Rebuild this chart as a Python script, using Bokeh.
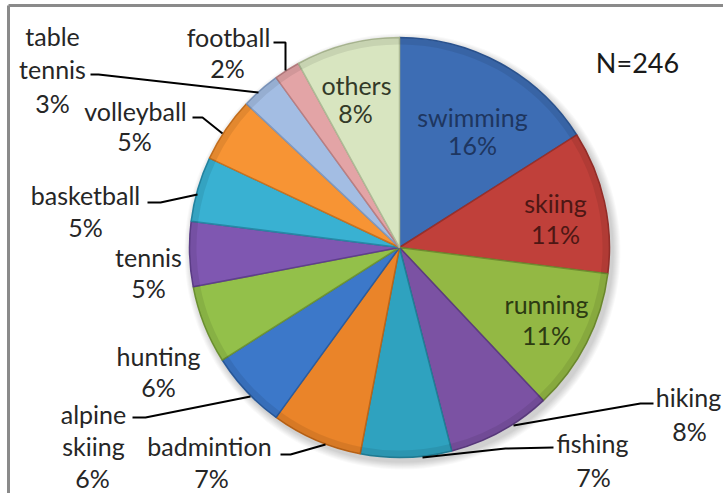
import math
from bokeh.plotting import figure
from bokeh.models import Range1d, ColumnDataSource
from bokeh.core.properties import value
from bokeh.embed import file_html
from bokeh.resources import INLINE

# ---- data ----
categories = ["swimming", "skiing", "running", "hiking", "fishing", "badmintion",
              "alpine skiing", "hunting", "tennis", "basketball", "volleyball",
              "table tennis", "football", "others"]
percents = [16, 11, 11, 8, 7, 7, 6, 6, 5, 5, 5, 3, 2, 8]
colors = ["#3d6db4", "#c0403a", "#93b844", "#7b52a3", "#2fa2bf", "#ea8429",
          "#3c78c9", "#93c04a", "#7f57b1", "#39b1d2", "#f79434", "#a3bde3",
          "#e3a4a6", "#d8e5c0"]
edge_colors = ["#2c5592", "#98302b", "#6f8d30", "#5c3c80", "#217f97", "#bd6518",
               "#2a5c9f", "#6f9533", "#5f3f8c", "#2689a6", "#c9721f", "#7f99c0",
               "#b97f82", "#aebb96"]
n_label = "N=246"

W, H = 723, 493
CX, CY, R = 399, 247, 210   # pie centre / radius in pixels (from top-left)

def Y(py):
    return H - py

p = figure(width=W, height=H, x_range=Range1d(0, W), y_range=Range1d(0, H),
           output_backend="svg", toolbar_location=None, min_border=0)
p.axis.visible = False
p.grid.visible = False
p.outline_line_color = None
p.background_fill_color = "white"
p.border_fill_color = "white"

# chart frame (top & left edges visible)
p.line([8, W], [Y(5), Y(5)], line_color="#8a8a8a", line_width=3)
p.line([8, 8], [Y(5), 0], line_color="#8a8a8a", line_width=3)

# soft shadow
for k in range(8):
    p.circle(x=CX + 3, y=Y(CY + 4), radius=R + 8 - k, fill_color="black",
             fill_alpha=0.025, line_color=None)

# wedges
total = sum(percents)
starts, ends = [], []
cum = 0.0
for v in percents:
    a0 = math.pi / 2 - 2 * math.pi * (cum + v) / total
    a1 = math.pi / 2 - 2 * math.pi * cum / total
    starts.append(a0)
    ends.append(a1)
    cum += v
src = ColumnDataSource(dict(start=starts, end=ends, fill=colors, edge=edge_colors))
p.wedge(x=CX, y=Y(CY), radius=R, start_angle="start", end_angle="end",
        fill_color="fill", line_color="edge", line_width=1.5, source=src)
# subtle bevel: darker rim and lighter inner band
p.annular_wedge(x=CX, y=Y(CY), inner_radius=R - 7, outer_radius=R, start_angle="start",
                end_angle="end", fill_color="black", fill_alpha=0.08, line_color=None,
                source=src)

FONT = value("Lato")
FS = "25px"

def label(x, y, txt, color="#262626", size=FS):
    p.text(x=[x], y=[Y(y)], text=[txt], text_align="center", text_baseline="middle",
           text_font=FONT, text_font_size=size, text_color=color)

# inside labels
label(472, 116, categories[0], "#1e3660"); label(472, 144, f"{percents[0]}%", "#1e3660")
label(555, 202, categories[1], "#4d1714"); label(555, 233, f"{percents[1]}%", "#4d1714")
label(546, 303, categories[2], "#2d3b12"); label(546, 334, f"{percents[2]}%", "#2d3b12")
label(356, 84, categories[13], "#333a28"); label(355, 112, f"{percents[13]}%", "#333a28")

# outside labels
label(228, 36, categories[12]); label(227, 67, f"{percents[12]}%")
label(52, 35, "table"); label(52, 68, "tennis"); label(52, 102, f"{percents[11]}%")
label(135, 110, categories[10]); label(134, 140, f"{percents[10]}%")
label(85, 194, categories[9]); label(85, 226, f"{percents[9]}%")
label(148, 256, categories[8]); label(148, 287, f"{percents[8]}%")
label(158, 355, categories[7]); label(158, 386, f"{percents[7]}%")
label(93, 413, "alpine"); label(93, 445, "skiing"); label(92, 477, f"{percents[6]}%")
label(209, 445, categories[5]); label(211, 477, f"{percents[5]}%")
label(592, 442, categories[4]); label(593, 476, f"{percents[4]}%")
label(688, 396, categories[3]); label(689, 430, f"{percents[3]}%")
label(637, 62, n_label, "#1a1a1a", "27px")

# leader lines
def leader(pts):
    p.line([q[0] for q in pts], [Y(q[1]) for q in pts], line_color="black", line_width=2)

leader([(273, 42), (285, 42), (285, 70)])
leader([(90, 74), (98, 74), (258, 92)])
leader([(192, 117), (202, 117), (222, 133)])
leader([(147, 202), (160, 202), (197, 194)])
leader([(132, 417), (145, 417), (250, 396)])
leader([(280, 454), (290, 454), (325, 444)])
leader([(553, 447), (505, 448), (422, 457)])
leader([(653, 403), (640, 403), (513, 425)])

open("out.html", "w").write(file_html(p, INLINE))
